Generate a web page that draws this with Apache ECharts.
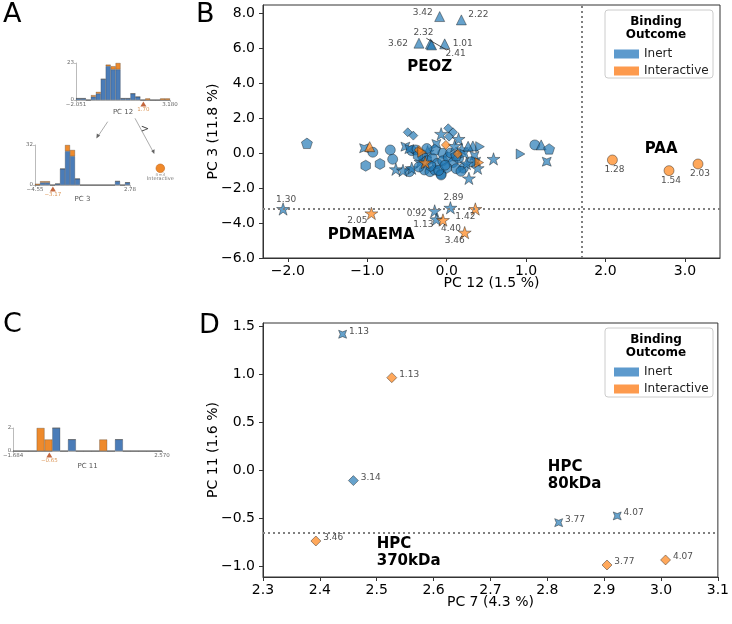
<!DOCTYPE html>
<html><head><meta charset="utf-8">
<script src="https://cdn.jsdelivr.net/npm/echarts@6/dist/echarts.min.js"></script>
<style>html,body{margin:0;padding:0;background:#fff}#c{width:732px;height:624px}</style>
</head><body><div id="c"></div>
<script>
// ================= DATA =================
// Panel B : [PC 12, PC 3, marker, label]
const peozInert = [
  [-0.088, 7.79, '^', '3.42'],
  [0.185, 7.60, '^', '2.22'],
  [-0.349, 6.27, '^', '3.62'],
  [-0.205, 6.23, '^', '2.32'],
  [-0.19, 6.17, '^', '2.41'],
  [-0.025, 6.23, '^', '1.01']
];
const pdmaemaInert = [
  [-2.06, -3.20, 's', '1.30'],
  [-0.151, -3.31, 's', '0.92'],
  [0.047, -3.13, 's', '2.89'],
  [-0.13, -3.79, 's', '1.13']
];
const pdmaemaInteractive = [
  [-0.948, -3.45, 's', '2.05'],
  [-0.047, -3.83, 's', '4.40'],
  [0.227, -4.55, 's', '3.46'],
  [0.361, -3.20, 's', '1.42']
];
const paaInteractive = [
  [2.087, -0.40, 'c', '1.28'],
  [2.80, -1.01, 'c', '1.54'],
  [3.165, -0.63, 'c', '2.03']
];
const clusterInert = [
  [-1.76, 0.55, 'p'], [-1.04, 0.27, 'X'], [-0.93, 0.04, 'c'], [-1.02, -0.73, 'h'],
  [-0.84, -0.63, 'h'], [-0.71, 0.17, 'c'], [-0.68, -0.36, 'c'], [-0.64, -0.93, 's'],
  [-0.49, 1.18, 'd'], [-0.42, 0.99, 'd'], [-0.52, 0.36, 'X'], [-0.44, 0.13, 'c'],
  [-0.39, 0.17, 'c'], [-0.24, 0.07, 's'], [-0.47, -1.07, 'c'], [-0.44, -0.87, 's'],
  [-0.28, -0.97, 'c'], [-0.21, -1.07, 'c'], [-0.15, -0.97, 'c'], [-0.07, -1.20, 'c'],
  [-0.33, -0.50, 's'], [-0.13, 0.51, 'X'], [-0.07, 1.09, 's'], [0.02, 1.41, 'd'],
  [0.08, 1.18, 'd'], [0.03, 0.93, 'd'], [0.15, 0.80, 's'], [0.19, 0.21, 's'],
  [0.33, 0.40, '^'], [0.42, 0.36, '>'], [-0.05, -0.02, 'c'], [0.35, -0.17, 'X'],
  [0.37, -0.50, 'X'], [0.31, -0.50, 'c'], [0.39, -0.87, 's'], [0.21, -0.87, 'c'],
  [0.28, -1.45, 's'], [-0.07, -1.26, 'c'], [0.59, -0.34, 's'], [0.93, -0.06, '>'],
  [1.11, 0.46, 'c'], [1.19, 0.46, '^'], [1.29, 0.23, 'p'], [1.26, -0.50, 'X'],
  [-0.30, -0.20, 'c'], [-0.25, -0.45, 'c'], [-0.18, -0.30, 'c'], [-0.12, -0.60, 'c'],
  [-0.05, -0.45, 'c'], [0.02, -0.25, 'c'], [0.08, -0.55, 'c'], [0.12, -0.90, 'c'],
  [-0.20, -0.75, 'h'], [0.00, -0.85, 'h'], [0.15, -0.30, 'c'], [0.22, -0.05, 'X'],
  [0.25, -0.60, 's'], [-0.35, -0.80, 'c'], [-0.15, 0.20, 'p'], [-0.47, 0.22, 'X'],
  [0.05, 0.00, 'c'], [-0.10, -1.00, 'c'], [0.10, 0.40, 's'], [-0.36, -0.15, 'h'],
  [-0.02, -0.70, 'c'], [0.18, -1.05, 'c'], [-0.25, 0.25, 'c'], [0.27, 0.38, '^'],
  [0.12, -0.15, 'p'], [-0.55, -1.00, 's']
];
const clusterInteractive = [
  [-0.97, 0.36, '^'], [-0.35, 0.17, 'd'], [-0.31, 0.04, '>'], [-0.01, 0.46, 'd'],
  [0.14, -0.06, 'd'], [-0.27, -0.55, 's'], [0.41, -0.55, '>']
];
const bThresholdX = 1.70;
const bThresholdY = -3.17;
const bAnnotations = [[-0.214, 4.93, 'PEOZ'], [-0.95, -4.69, 'PDMAEMA'], [2.70, 0.21, 'PAA']];
const bXTicks = [-2, -1, 0, 1, 2, 3];
const bYTicks = [-6, -4, -2, 0, 2, 4, 6, 8];

// Panel D : [PC 7, PC 11, marker, label]
const hpcInert = [
  [2.44, 1.413, 'X', '1.13'],
  [2.459, -0.111, 'd', '3.14'],
  [2.82, -0.549, 'X', '3.77'],
  [2.923, -0.479, 'X', '4.07']
];
const hpcInteractive = [
  [2.5265, 0.961, 'd', '1.13'],
  [2.393, -0.74, 'd', '3.46'],
  [2.905, -0.99, 'd', '3.77'],
  [3.008, -0.9375, 'd', '4.07']
];
const dThresholdY = -0.65;
const dAnnotations = [[2.801, -0.057, 'HPC\n80kDa'], [2.50, -0.857, 'HPC\n370kDa']];
const dXTicks = [2.3, 2.4, 2.5, 2.6, 2.7, 2.8, 2.9, 3.0, 3.1];
const dYTicks = [-1.0, -0.5, 0.0, 0.5, 1.0, 1.5];

// Panel A histograms (19 bins each)
const h12Inert       = [1,1,0,2,4,13,21,19,19,1,1,4,2,0,0,0,0,0,0];
const h12Interactive = [0,0,0,1,1,0,1,2,4,0,0,0,0,0,1,0,0,1,1];
const h12Range = [-2.051, 3.180];
const h12RangeLabels = ['\u22122.051', '3.180'];
const h12Split = 1.70;
const h12SplitLabel = '1.70';
const h3Inert       = [0,2,2,0,1,13,27,23,5,0,0,0,0,0,0,0,3,0,2];
const h3Interactive = [1,1,1,0,0,0,5,5,0,0,0,0,0,0,0,0,0,0,0];
const h3Range = [-4.55, 2.78];
const h3RangeLabels = ['\u22124.55', '2.78'];
const h3Split = -3.17;
const h3SplitLabel = '\u22123.17';
// Panel C histogram
const h11Inert       = [0,0,0,0,0,2,0,1,0,0,0,0,0,1,0,0,0,0,0];
const h11Interactive = [0,0,0,2,1,0,0,0,0,0,0,1,0,0,0,0,0,0,0];
const h11Range = [-1.684, 2.570];
const h11RangeLabels = ['\u22121.684', '2.570'];
const h11Split = -0.65;
const h11SplitLabel = '\u22120.65';

// ================= STYLE =================
const FONT = 'DejaVu Sans';
const BLUE = 'rgba(31,119,180,0.85)';
const ORANGE = 'rgba(255,127,14,0.85)';
const EDGE = 'rgba(20,20,20,0.75)';
const SYM = {
  c: 'circle',
  d: 'diamond',
  '^': 'triangle',
  h: 'path://M0,-10L8.66,-5L8.66,5L0,10L-8.66,5L-8.66,-5Z',
  p: 'path://M0,-10L9.51,-3.09L5.88,8.09L-5.88,8.09L-9.51,-3.09Z',
  s: 'path://M0,-10L2.245,-3.09L9.511,-3.09L3.633,1.18L5.878,8.09L0,3.82L-5.878,8.09L-3.633,1.18L-9.511,-3.09L-2.245,-3.09Z',
  '>': 'path://M-8.66,-10L8.66,0L-8.66,10Z',
  X: 'path://M-10,-10L0,-6L10,-10L6,0L10,10L0,6L-10,10L-6,0Z'
};
const SIZE_B = {c: 10, d: 9, '^': 10, h: 11, p: 11, s: 13, '>': 10, X: 9};
const SIZE_D = {c: 9, d: 10, '^': 9, h: 9, p: 9, s: 11, '>': 9, X: 8};
const bLabelOffsets = {
  '3.42': [-17, -4], '2.22': [17, -5], '3.62': [-21, 0], '2.32': [-7, -11], '2.41': [24, 9],
  '1.01': [18, 0], '1.30': [3, -9], '2.05': [-14, 7], '0.92': [-18, 3], '2.89': [3, -10],
  '1.13': [-13, 5], '4.40': [8, 9], '3.46': [-10, 8], '1.42': [-10, 8],
  '1.28': [2, 10], '1.54': [2, 10], '2.03': [2, 10]
};

function ptsB(arr) {
  return arr.map(d => {
    const o = {value: [d[0], d[1]], symbol: SYM[d[2]], symbolSize: SIZE_B[d[2]]};
    if (d[3]) o.label = {show: true, formatter: d[3], position: 'inside', offset: bLabelOffsets[d[3]] || [0, 0],
      color: '#222', fontSize: 9, fontFamily: FONT, textBorderWidth: 0};
    return o;
  });
}
function ptsD(arr) {
  return arr.map(d => ({
    value: [d[0], d[1]], symbol: SYM[d[2]], symbolSize: SIZE_D[d[2]],
    label: {show: true, formatter: d[3], position: 'right', distance: 2, offset: [0, -3],
      color: '#222', fontSize: 9, fontFamily: FONT}
  }));
}
function annot(arr, align) {
  return arr.map(d => ({
    value: [d[0], d[1]],
    label: {show: true, formatter: d[2], position: [0.5, 0.5], align: align, verticalAlign: 'middle',
      color: '#000', opacity: 1, fontSize: 15, fontWeight: 'bold', fontFamily: FONT, lineHeight: 17, textBorderWidth: 0}
  }));
}
const fmt1 = v => (v < 0 ? '\u2212' : '') + Math.abs(v).toFixed(1);

function mainX(grid, min, max, ticks, name) {
  return {type: 'value', gridIndex: grid, min: min, max: max, name: name, nameLocation: 'middle', nameGap: 18,
    nameMoveOverlap: false,
    nameTextStyle: {fontSize: 14, color: '#000', fontFamily: FONT},
    axisLine: {show: true, onZero: false, lineStyle: {color: '#333', width: 1}},
    axisTick: {show: true, length: 4, customValues: ticks, lineStyle: {color: '#333'}},
    axisLabel: {customValues: ticks, formatter: fmt1, fontSize: 14, color: '#000', fontFamily: FONT, margin: 6},
    splitLine: {show: false}};
}
function mainY(grid, min, max, ticks, name) {
  return {type: 'value', gridIndex: grid, min: min, max: max, name: name, nameLocation: 'middle', nameGap: 43,
    nameMoveOverlap: false,
    nameTextStyle: {fontSize: 14, color: '#000', fontFamily: FONT},
    axisLine: {show: true, onZero: false, lineStyle: {color: '#333', width: 1}},
    axisTick: {show: true, length: 4, customValues: ticks, lineStyle: {color: '#333'}},
    axisLabel: {customValues: ticks, formatter: fmt1, fontSize: 14, color: '#000', fontFamily: FONT, margin: 8},
    splitLine: {show: false}};
}
function histCatX(grid, n, name, gap) {
  return {type: 'category', gridIndex: grid, data: n.map((_, i) => String(i)), position: 'bottom',
    boundaryGap: true, name: name, nameLocation: 'middle', nameGap: gap, nameMoveOverlap: false,
    nameTextStyle: {fontSize: 7, color: '#555', fontFamily: FONT},
    axisLine: {show: true, onZero: false, lineStyle: {color: '#aaa', width: 0.8}}, axisTick: {show: false}, axisLabel: {show: false}};
}
function histValX(grid, range, labels) {
  return {type: 'value', gridIndex: grid, min: range[0], max: range[1], position: 'bottom',
    axisLine: {show: false, onZero: false},
    axisTick: {show: true, length: 2, customValues: range, lineStyle: {color: '#999', width: 0.6}},
    axisLabel: {customValues: range, formatter: v => (v === range[0] ? labels[0] : labels[1]),
      fontSize: 5.5, color: '#666', fontFamily: FONT, margin: 2},
    splitLine: {show: false}};
}
function histY(grid, max) {
  return {type: 'value', gridIndex: grid, min: 0, max: max,
    axisLine: {show: true, onZero: false, lineStyle: {color: '#aaa', width: 0.8}},
    axisTick: {show: true, length: 2, customValues: [0, max], lineStyle: {color: '#999', width: 0.6}},
    axisLabel: {customValues: [0, max], fontSize: 5.5, color: '#666', fontFamily: FONT, margin: 2},
    splitLine: {show: false}};
}
function histBars(xi, yi, stack, inert, inter) {
  return [
    {name: 'Inert', type: 'bar', xAxisIndex: xi, yAxisIndex: yi, stack: stack, data: inert, barCategoryGap: '0%',
     itemStyle: {color: '#4a7cb8', borderColor: 'rgba(50,50,50,0.7)', borderWidth: 0.4}, silent: true},
    {name: 'Interactive', type: 'bar', xAxisIndex: xi, yAxisIndex: yi, stack: stack, data: inter, barCategoryGap: '0%',
     itemStyle: {color: '#ee8a2c', borderColor: 'rgba(50,50,50,0.7)', borderWidth: 0.4}, silent: true}
  ];
}
function splitMarker(xi, yi, value, label) {
  return {type: 'scatter', xAxisIndex: xi, yAxisIndex: yi, data: [[value, 0]], symbol: 'triangle', symbolSize: [6, 5],
    symbolOffset: [0, 4], clip: false, silent: true, itemStyle: {color: '#b4410e'},
    label: {show: true, formatter: label, position: 'bottom', distance: 0, fontSize: 5.5, color: '#d27a2a', fontFamily: FONT}};
}
const dotted = {type: [2, 3], color: '#808080', width: 2};
const hidden = {color: 'rgba(0,0,0,0)', borderWidth: 0};

const option = {
  animation: false,
  backgroundColor: '#fff',
  grid: [
    {left: 263, top: 5, width: 457, height: 253, show: true, borderColor: '#333', borderWidth: 1},
    {left: 263, top: 323, width: 456, height: 254, show: true, borderColor: '#333', borderWidth: 1},
    {left: 76, top: 63, width: 94, height: 37},
    {left: 35, top: 145, width: 95, height: 40},
    {left: 13, top: 428, width: 149, height: 23}
  ],
  xAxis: [
    mainX(0, -2.313, 3.442, bXTicks, 'PC 12 (1.5 %)'),
    mainX(1, 2.3, 3.1, dXTicks, 'PC 7 (4.3 %)'),
    histCatX(2, h12Inert, 'PC 12', 9),
    histValX(2, h12Range, h12RangeLabels),
    histCatX(3, h3Inert, 'PC 3', 11),
    histValX(3, h3Range, h3RangeLabels),
    histCatX(4, h11Inert, 'PC 11', 12),
    histValX(4, h11Range, h11RangeLabels)
  ],
  yAxis: [
    mainY(0, -6, 8.45, bYTicks, 'PC 3 (11.8 %)'),
    mainY(1, -1.115, 1.53, dYTicks, 'PC 11 (1.6 %)'),
    histY(2, 23),
    histY(3, 32),
    histY(4, 2)
  ],
  legend: [0, 318].map(dy => ({
    left: 609, top: 43 + dy, orient: 'vertical', icon: 'rect', itemWidth: 25, itemHeight: 9, itemGap: 5,
    selectedMode: false, textStyle: {fontSize: 12, color: '#222', fontFamily: FONT},
    data: [{name: 'Inert', itemStyle: {color: '#3581c0', borderWidth: 0}},
           {name: 'Interactive', itemStyle: {color: '#fd8120', borderWidth: 0}}]
  })),
  series: [
    {name: 'Inert', type: 'scatter', xAxisIndex: 0, yAxisIndex: 0, clip: false, symbolKeepAspect: true,
     itemStyle: {color: BLUE, borderColor: EDGE, borderWidth: 0.7},
     data: ptsB([...peozInert, ...pdmaemaInert, ...clusterInert]),
     markLine: {silent: true, symbol: 'none', label: {show: false}, data: [
       {xAxis: bThresholdX, lineStyle: dotted},
       {yAxis: bThresholdY, lineStyle: dotted},
       [{coord: [-0.256, 6.55], lineStyle: {color: '#222', width: 0.8, type: 'solid'}}, {coord: [-0.004, 5.89]}]
     ]}},
    {name: 'Interactive', type: 'scatter', xAxisIndex: 0, yAxisIndex: 0, clip: false, symbolKeepAspect: true,
     itemStyle: {color: ORANGE, borderColor: EDGE, borderWidth: 0.7},
     data: ptsB([...clusterInteractive, ...pdmaemaInteractive, ...paaInteractive])},
    {type: 'scatter', xAxisIndex: 0, yAxisIndex: 0, silent: true, symbolSize: 1, itemStyle: hidden, z: 5,
     data: annot(bAnnotations, 'center')},
    {name: 'Inert', type: 'scatter', xAxisIndex: 1, yAxisIndex: 1, clip: false, symbolKeepAspect: true,
     itemStyle: {color: BLUE, borderColor: EDGE, borderWidth: 0.7}, data: ptsD(hpcInert),
     markLine: {silent: true, symbol: 'none', label: {show: false}, data: [{yAxis: dThresholdY, lineStyle: dotted}]}},
    {name: 'Interactive', type: 'scatter', xAxisIndex: 1, yAxisIndex: 1, clip: false, symbolKeepAspect: true,
     itemStyle: {color: ORANGE, borderColor: EDGE, borderWidth: 0.7}, data: ptsD(hpcInteractive)},
    {type: 'scatter', xAxisIndex: 1, yAxisIndex: 1, silent: true, symbolSize: 1, itemStyle: hidden, z: 5,
     data: annot(dAnnotations, 'left')},
    ...histBars(2, 2, 'h12', h12Inert, h12Interactive),
    splitMarker(3, 2, h12Split, h12SplitLabel),
    ...histBars(4, 3, 'h3', h3Inert, h3Interactive),
    splitMarker(5, 3, h3Split, h3SplitLabel),
    ...histBars(6, 4, 'h11', h11Inert, h11Interactive),
    splitMarker(7, 4, h11Split, h11SplitLabel)
  ],
  graphic: [
    {type: 'text', x: 3, y: 15, style: {text: 'A', font: '27px ' + FONT, fill: '#000', verticalAlign: 'middle'}},
    {type: 'text', x: 196, y: 15, style: {text: 'B', font: '27px ' + FONT, fill: '#000', verticalAlign: 'middle'}},
    {type: 'text', x: 3, y: 325, style: {text: 'C', font: '27px ' + FONT, fill: '#000', verticalAlign: 'middle'}},
    {type: 'text', x: 199, y: 326, style: {text: 'D', font: '27px ' + FONT, fill: '#000', verticalAlign: 'middle'}},
    // legend frames
    {type: 'rect', shape: {x: 605, y: 10, width: 108, height: 68, r: 3}, style: {fill: 'rgba(255,255,255,0.85)', stroke: '#ccc', lineWidth: 1}, z: 1},
    {type: 'text', x: 656, y: 15, z: 2, style: {text: 'Binding\nOutcome', font: 'bold 12px ' + FONT, fill: '#000', align: 'center', verticalAlign: 'top', lineHeight: 13}},
    {type: 'rect', shape: {x: 605, y: 328, width: 108, height: 69, r: 3}, style: {fill: 'rgba(255,255,255,0.85)', stroke: '#ccc', lineWidth: 1}, z: 1},
    {type: 'text', x: 656, y: 333, z: 2, style: {text: 'Binding\nOutcome', font: 'bold 12px ' + FONT, fill: '#000', align: 'center', verticalAlign: 'top', lineHeight: 13}},
    // tree arrows in panel A
    {type: 'line', shape: {x1: 107.7, y1: 121.7, x2: 97.3, y2: 137.3}, style: {stroke: '#888', lineWidth: 0.7}},
    {type: 'polygon', shape: {points: [[96.4, 138.6], [100.2, 135.6], [96.8, 133.4]]}, style: {fill: '#666'}},
    {type: 'line', shape: {x1: 135, y1: 118.3, x2: 153.6, y2: 152.6}, style: {stroke: '#888', lineWidth: 0.7}},
    {type: 'polygon', shape: {points: [[154.3, 154], [154.6, 149.2], [151.2, 151.1]]}, style: {fill: '#666'}},
    {type: 'text', x: 145, y: 129, style: {text: '>', font: '10px ' + FONT, fill: '#444', align: 'center', verticalAlign: 'middle'}},
    {type: 'circle', shape: {cx: 160.3, cy: 168.3, r: 4.3}, style: {fill: '#f0892a', stroke: '#c2651a', lineWidth: 0.6}},
    {type: 'text', x: 160.3, y: 174.5, style: {text: 'n=3', font: '4.5px ' + FONT, fill: '#888', align: 'center', verticalAlign: 'middle'}},
    {type: 'text', x: 160.3, y: 178.8, style: {text: 'Interactive', font: '5px ' + FONT, fill: '#777', align: 'center', verticalAlign: 'middle'}}
  ]
};
const chart = echarts.init(document.getElementById('c'), null, {renderer: 'canvas'});
chart.setOption(option);
</script>
</body></html>
